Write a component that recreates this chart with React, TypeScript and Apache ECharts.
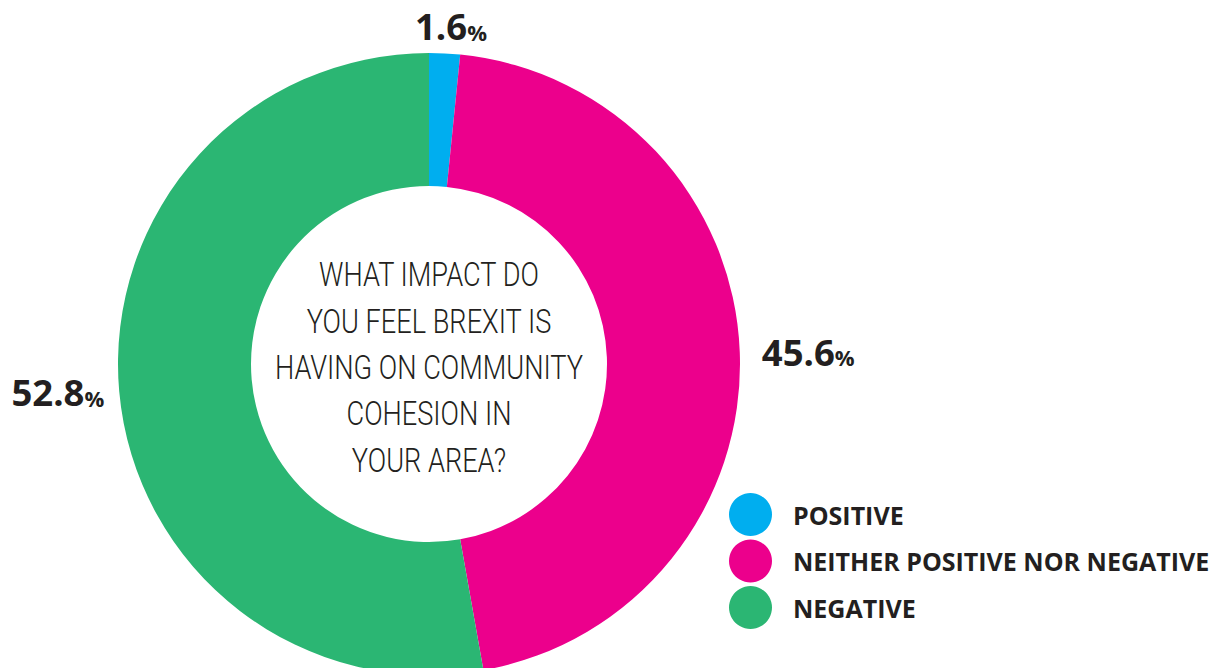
import React, { useEffect, useRef } from 'react';
import * as echarts from 'echarts';

const categories = ['POSITIVE', 'NEITHER POSITIVE NOR NEGATIVE', 'NEGATIVE'];
const values = [1.6, 45.6, 52.8];
const colors = ['#00aeef', '#ec008c', '#2bb673'];
const centerLines = ['WHAT IMPACT DO', 'YOU FEEL BREXIT IS', 'HAVING ON COMMUNITY', 'COHESION IN', 'YOUR AREA?'];

export default function App() {
  const ref = useRef<HTMLDivElement>(null);
  useEffect(() => {
    const chart = echarts.init(ref.current!, null, { renderer: 'svg' });
    const lineLen = [27, 10, 10];
    const lineLen2 = [0, 7, 0];
    chart.setOption({
      animation: false,
      legend: {
        orient: 'vertical',
        left: 729,
        top: 493,
        padding: 0,
        icon: 'circle',
        itemWidth: 43,
        itemHeight: 43,
        itemGap: 3.5,
        selectedMode: false,
        data: categories,
        textStyle: {
          fontFamily: 'Open Sans',
          fontWeight: 'bold',
          fontSize: 25,
          color: '#231f20',
          padding: [0, 0, 0, 16],
        },
      },
      graphic: centerLines.map((t, i) => ({
        type: 'text',
        x: 429,
        y: 274.7 + i * 46.4,
        scaleX: 0.8,
        silent: true,
        style: {
          text: t,
          fill: '#231f20',
          fontFamily: 'Roboto',
          fontWeight: 300,
          fontSize: 34,
          align: 'center',
          verticalAlign: 'middle',
        },
      })),
      series: [
        {
          type: 'pie',
          center: [429, 364],
          radius: [178, 311],
          startAngle: 90,
          clockwise: true,
          avoidLabelOverlap: false,
          silent: true,
          emphasis: { disabled: true },
          label: {
            show: true,
            position: 'outside',
            formatter: (p: any) => '{v|' + p.value + '}{p|%}',
            rich: {
              v: { fontFamily: 'Open Sans', fontWeight: 'bold', fontSize: 36.5, color: '#231f20', verticalAlign: 'bottom' },
              p: { fontFamily: 'Open Sans', fontWeight: 'bold', fontSize: 22, color: '#231f20', verticalAlign: 'bottom', padding: [0, 0, 2, 0] },
            },
          },
          labelLine: { show: false, length: 10, length2: 7 },
          labelLayout: (params: any) => (params.dataIndex === 0 ? { align: 'center' } : {}),
          data: categories.map((name, i) => ({
            name,
            value: values[i],
            itemStyle: { color: colors[i] },
            labelLine: { show: false, length: lineLen[i], length2: lineLen2[i] },
          })),
        },
      ],
    });
    return () => chart.dispose();
  }, []);
  return <div ref={ref} style={{ position: 'absolute', left: 0, top: 0, width: 1220, height: 668 }} />;
}
